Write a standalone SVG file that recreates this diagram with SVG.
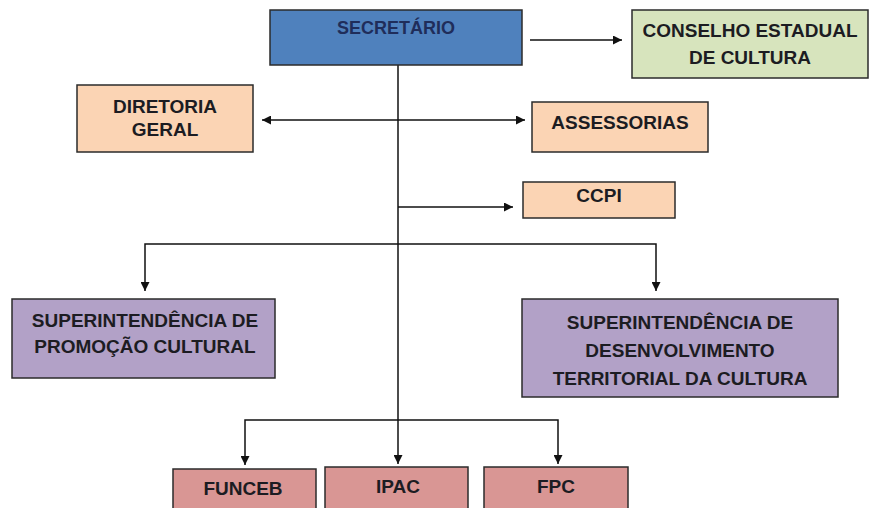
<svg xmlns="http://www.w3.org/2000/svg" width="872" height="508" viewBox="0 0 872 508">
<style>
.box{stroke:#2b2b2b;stroke-width:1.5}
.t{font-family:"Liberation Sans",Arial,sans-serif;font-weight:bold;font-size:19px;fill:#1c1c22;text-anchor:middle}
.ln{stroke:#111;stroke-width:1.5;fill:none}
</style>
<defs>
<marker id="ah" viewBox="0 0 10 10" refX="10" refY="5" markerWidth="9" markerHeight="9" markerUnits="userSpaceOnUse" orient="auto-start-reverse">
<path d="M0,0 L10,5 L0,10 z" fill="#111"/>
</marker>
</defs>
<rect width="872" height="508" fill="#fff"/>
<g id="connectors">
<line class="ln" x1="398" y1="65" x2="398" y2="420"/>
<line class="ln" x1="530" y1="40" x2="622" y2="40" marker-end="url(#ah)"/>
<line class="ln" x1="262" y1="120" x2="525" y2="120" marker-start="url(#ah)" marker-end="url(#ah)"/>
<line class="ln" x1="398" y1="207" x2="513" y2="207" marker-end="url(#ah)"/>
<polyline class="ln" points="145,291 145,244 656,244 656,291" marker-start="url(#ah)" marker-end="url(#ah)"/>
<polyline class="ln" points="245,465 245,420 558,420 558,464" marker-start="url(#ah)" marker-end="url(#ah)"/>
<line class="ln" x1="398" y1="420" x2="398" y2="464" marker-end="url(#ah)"/>
</g>
<g id="secretario">
<rect class="box" x="270" y="10" width="252" height="55" fill="#4F81BD"/>
<text class="t" x="396" y="34" style="fill:#1F2D5A;font-size:18px">SECRETÁRIO</text>
</g>
<g id="conselho">
<rect class="box" x="632" y="10" width="236" height="68" fill="#D7E4BD"/>
<text class="t" x="750" y="37">CONSELHO ESTADUAL</text>
<text class="t" x="750" y="64">DE CULTURA</text>
</g>
<g id="diretoria">
<rect class="box" x="77" y="85" width="176" height="67" fill="#FBD4B4"/>
<text class="t" x="165" y="113">DIRETORIA</text>
<text class="t" x="165" y="136">GERAL</text>
</g>
<g id="assessorias">
<rect class="box" x="532" y="102" width="176" height="50" fill="#FBD4B4"/>
<text class="t" x="620" y="129">ASSESSORIAS</text>
</g>
<g id="ccpi">
<rect class="box" x="523" y="182" width="152" height="36" fill="#FBD4B4"/>
<text class="t" x="599" y="202">CCPI</text>
</g>
<g id="sup-promocao">
<rect class="box" x="12" y="299" width="263" height="79" fill="#B2A1C7"/>
<text class="t" x="145" y="327">SUPERINTENDÊNCIA DE</text>
<text class="t" x="145" y="353">PROMOÇÃO CULTURAL</text>
</g>
<g id="sup-desenvolvimento">
<rect class="box" x="522" y="299" width="316" height="98" fill="#B2A1C7"/>
<text class="t" x="680" y="329">SUPERINTENDÊNCIA DE</text>
<text class="t" x="680" y="357">DESENVOLVIMENTO</text>
<text class="t" x="680" y="385">TERRITORIAL DA CULTURA</text>
</g>
<g id="funceb">
<rect class="box" x="173" y="469" width="143" height="45" fill="#D99694"/>
<text class="t" x="243" y="495">FUNCEB</text>
</g>
<g id="ipac">
<rect class="box" x="325" y="467" width="143" height="47" fill="#D99694"/>
<text class="t" x="398" y="493">IPAC</text>
</g>
<g id="fpc">
<rect class="box" x="484" y="467" width="144" height="47" fill="#D99694"/>
<text class="t" x="556" y="493">FPC</text>
</g>
</svg>
